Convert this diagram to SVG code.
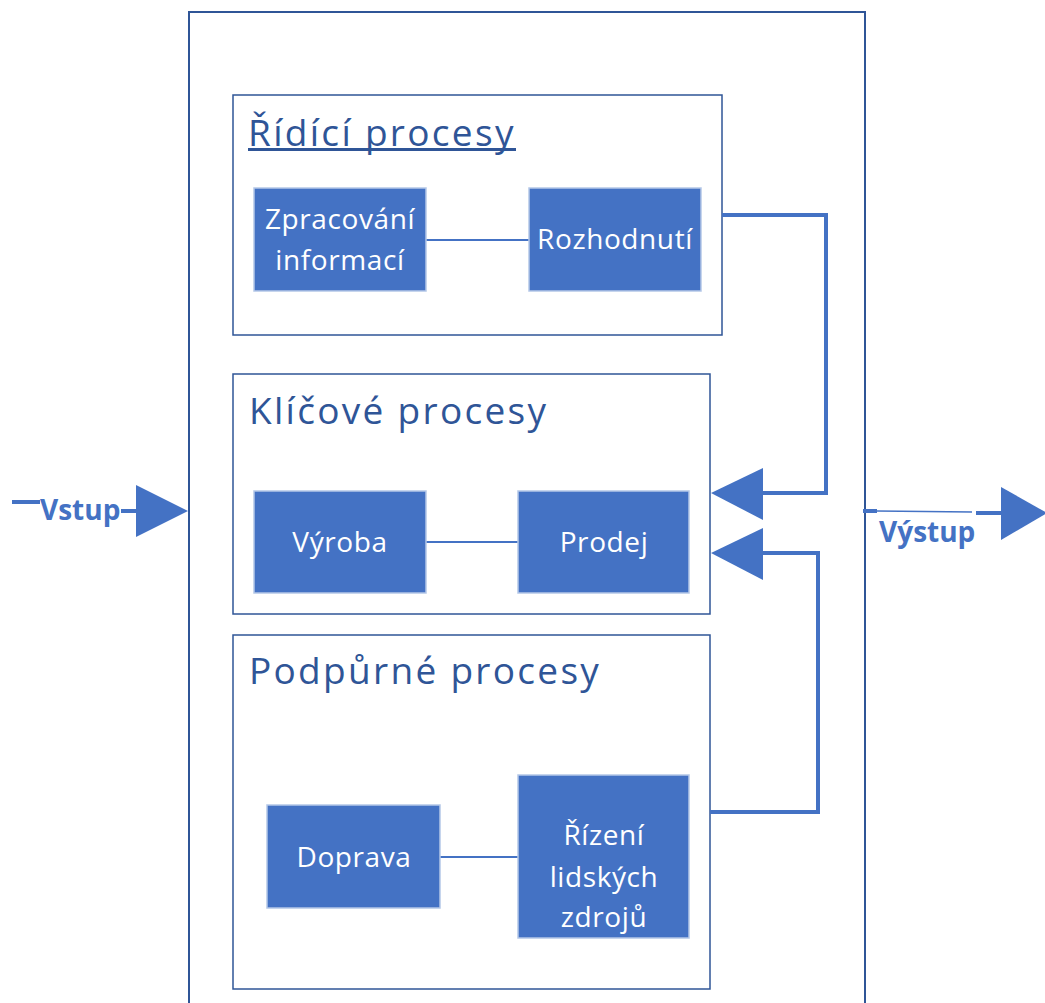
<svg xmlns="http://www.w3.org/2000/svg" width="1045" height="1003" viewBox="0 0 1045 1003">
  <style>
    .frame { fill: none; stroke: #2f5597; stroke-width: 2; }
    .group { fill: #ffffff; stroke: #2f5597; stroke-width: 1.5; }
    .title { font-family: "Open Sans", "Noto Sans", sans-serif; font-size: 37px; letter-spacing: 2.3px; fill: #2f5597; }
    .node rect { fill: #4472c4; stroke: #b4c7e7; stroke-width: 1.5; }
    .node text { font-family: "Open Sans", "Noto Sans", sans-serif; font-size: 28px; letter-spacing: 0.6px; fill: #ffffff; text-anchor: middle; }
    .link { fill: none; stroke: #4472c4; stroke-width: 2; }
    .flow { fill: none; stroke: #4472c4; stroke-width: 4; }
    .head { fill: #4472c4; }
    .io { font-family: "Open Sans", "Noto Sans", sans-serif; font-size: 28px; font-weight: bold; fill: #4472c4; }
  </style>

  <!-- outer system boundary (open at the bottom) -->
  <path class="frame" d="M189,1010 V12 H865 V1010"/>

  <!-- process groups -->
  <g id="group-ridici">
    <rect class="group" x="233" y="95" width="489" height="240"/>
    <text class="title" x="248" y="146">Řídící procesy</text>
    <rect x="248" y="148" width="268" height="3" fill="#2f5597"/>
  </g>
  <g id="group-klicove">
    <rect class="group" x="233" y="374" width="477" height="240"/>
    <text class="title" x="249" y="424">Klíčové procesy</text>
  </g>
  <g id="group-podpurne">
    <rect class="group" x="233" y="635" width="477" height="354"/>
    <text class="title" x="249" y="684">Podpůrné procesy</text>
  </g>

  <!-- connectors -->
  <g id="connectors">
    <line class="link" x1="426" y1="240" x2="529" y2="240"/>
    <line class="link" x1="426" y1="542" x2="518" y2="542"/>
    <line class="link" x1="440" y1="857" x2="518" y2="857"/>

    <!-- feedback from decisions to key processes -->
    <polyline class="flow" points="722,215 826,215 826,493 763,493"/>
    <polygon class="head" points="763,468 763,520 711,493"/>

    <!-- feedback from support processes to key processes -->
    <polyline class="flow" points="710,812 818,812 818,553 763,553"/>
    <polygon class="head" points="763,528 763,580 711,553"/>

    <!-- input -->
    <line class="flow" x1="12" y1="502" x2="40" y2="502"/>
    <line class="flow" x1="121" y1="511" x2="137" y2="511"/>
    <polygon class="head" points="136,485 136,537 188,511"/>

    <!-- output -->
    <line class="flow" x1="863" y1="511" x2="877" y2="511"/>
    <line x1="877" y1="511" x2="972" y2="512" stroke="#4472c4" stroke-width="1.5"/>
    <line class="flow" x1="976" y1="513" x2="1002" y2="513"/>
    <polygon class="head" points="1001,487 1001,540 1047,513"/>
  </g>

  <!-- input / output labels -->
  <text class="io" x="40" y="520">Vstup</text>
  <text class="io" x="879" y="542">Výstup</text>

  <!-- nodes -->
  <g id="node-zpracovani" class="node">
    <rect x="254" y="188" width="172" height="103"/>
    <text x="340" y="229">Zpracování</text>
    <text x="340" y="270">informací</text>
  </g>
  <g id="node-rozhodnuti" class="node">
    <rect x="529" y="188" width="172" height="103"/>
    <text x="615" y="249">Rozhodnutí</text>
  </g>
  <g id="node-vyroba" class="node">
    <rect x="254" y="491" width="172" height="102"/>
    <text x="340" y="552">Výroba</text>
  </g>
  <g id="node-prodej" class="node">
    <rect x="518" y="491" width="171" height="102"/>
    <text x="604" y="552">Prodej</text>
  </g>
  <g id="node-doprava" class="node">
    <rect x="267" y="805" width="173" height="103"/>
    <text x="354" y="867">Doprava</text>
  </g>
  <g id="node-rizeni" class="node">
    <rect x="518" y="775" width="171" height="163"/>
    <text x="604" y="845">Řízení</text>
    <text x="604" y="887">lidských</text>
    <text x="604" y="927">zdrojů</text>
  </g>
</svg>
